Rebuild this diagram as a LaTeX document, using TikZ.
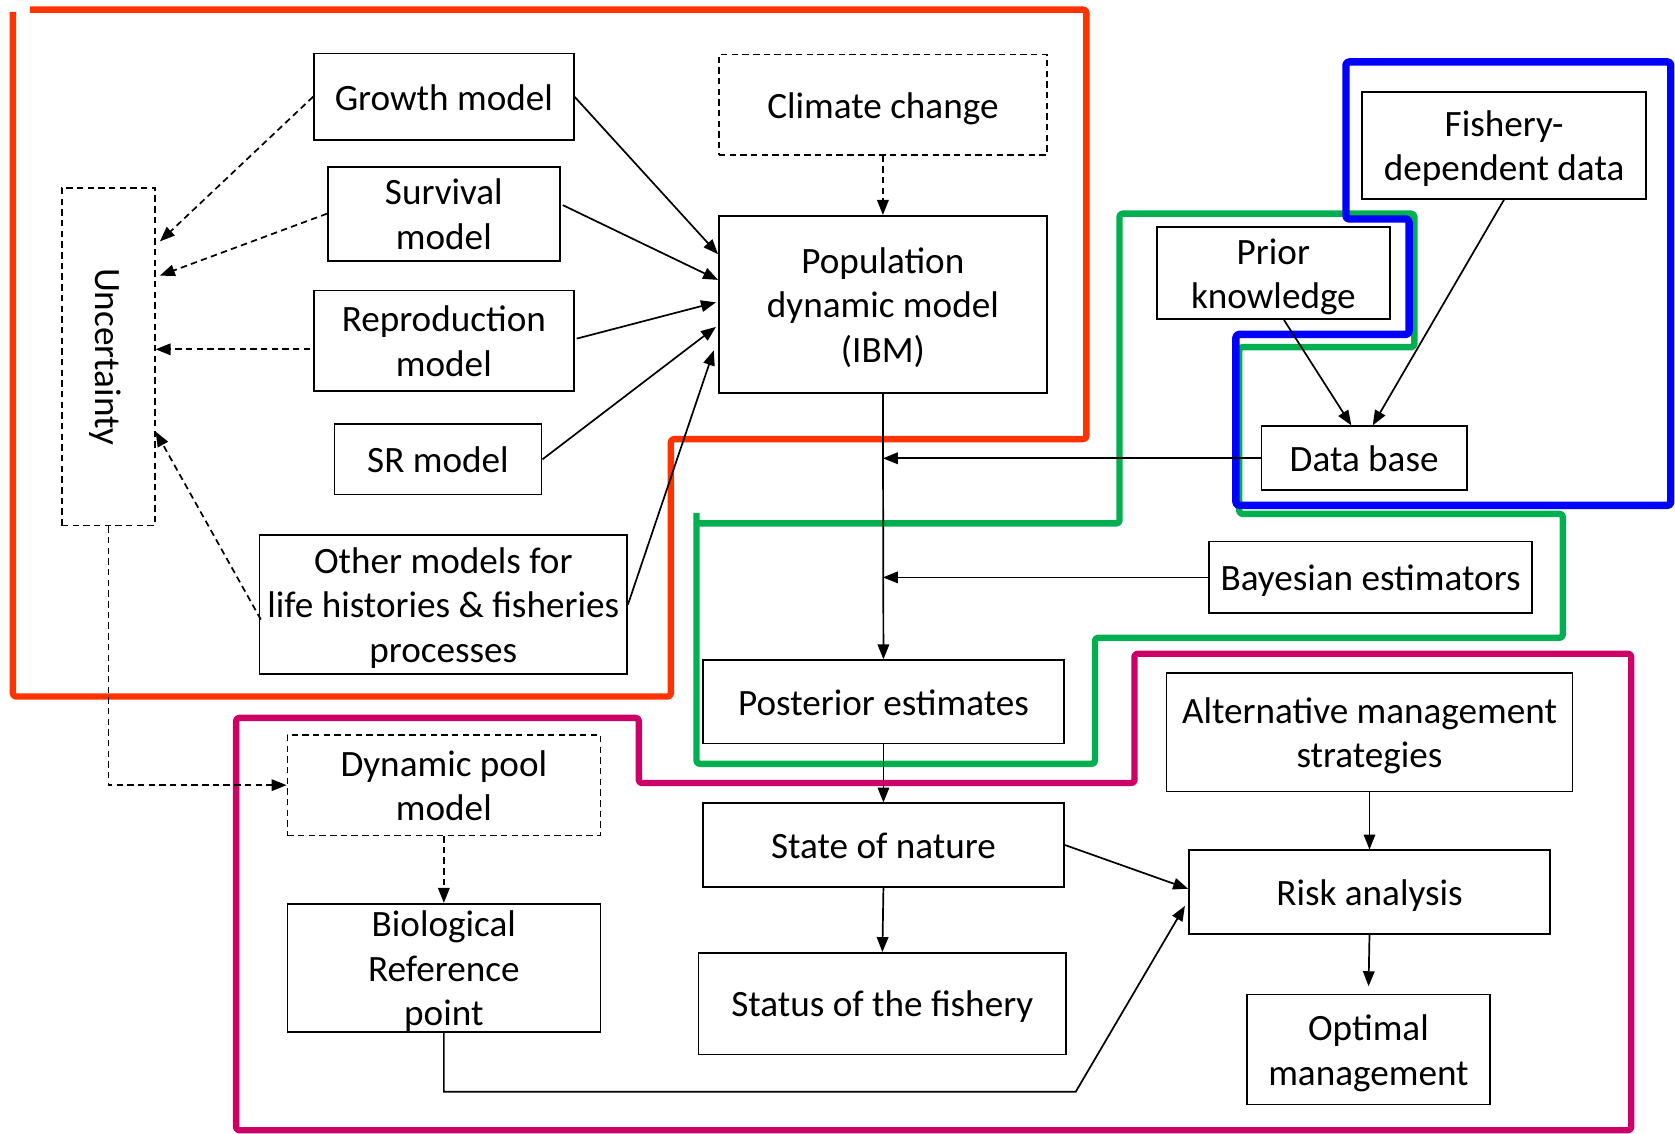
\documentclass[tikz,border=0pt]{standalone}
\usepackage{fontspec}
\setmainfont{Carlito}
\usetikzlibrary{arrows.meta,calc}
\newdimen\upx \upx=0.5pt
\newcommand\tstr{\rule{0pt}{17.5pt}}
\newcommand\bstr{\rule[-5pt]{0pt}{5pt}}
\begin{document}
\begin{tikzpicture}[x=0.5pt,y=-0.5pt,
  box/.style={draw, line width=0.8pt, align=center, inner sep=0pt,
    font=\fontsize{17.4}{20.8}\selectfont},
  dbox/.style={box, line width=0.7pt, dash pattern=on 3pt off 2pt},
  conn/.style={line width=0.8pt, -{Triangle[length=7pt,width=5.4pt]}},
  dconn/.style={conn, dash pattern=on 3pt off 2pt},
  frame/.style={line width=3pt, line join=round, rounded corners=1.5pt}]
\useasboundingbox (0,0) rectangle (1568,1061);
\definecolor{fred}{HTML}{FF3300}
\definecolor{fgreen}{HTML}{00B050}
\definecolor{fblue}{HTML}{0000FF}
\definecolor{fmag}{HTML}{CC0066}

% coloured frames
\draw[frame, fred] (28,9) -- (1017,9) -- (1017,411) -- (628,411) -- (628,652) -- (12,652) -- (12,11);
\draw[frame, fgreen] (652,480) -- (652,715) -- (1025,715) -- (1025,597) -- (1463,597) -- (1463,481) -- (1160,481) -- (1160,325) -- (1324,325) -- (1324,200) -- (1048,200) -- (1048,490) -- (652,490);
\draw[frame, fblue, line width=3.5pt] (1260,58) -- (1564,58) -- (1564,473) -- (1157,473) -- (1157,313) -- (1319,313) -- (1319,205) -- (1260,205) -- cycle;
\draw[frame, fmag] (221,672) -- (598,672) -- (598,733) -- (1062,733) -- (1062,612) -- (1527,612) -- (1527,1058) -- (221,1058) -- cycle;

% nodes
\node[box, minimum width=243\upx, minimum height=81\upx] (growth) at (415.5,90.5) {\tstr Growth model\bstr};
\node[box, minimum width=217\upx, minimum height=88\upx] (surv) at (415.5,200) {\tstr Survival\\model\bstr};
\node[box, minimum width=243\upx, minimum height=94\upx] (repro) at (415.5,319) {\tstr Reproduction\\model\bstr};
\node[box, minimum width=194\upx, minimum height=66\upx] (sr) at (410,430) {\tstr SR model\bstr};
\node[box, minimum width=344\upx, minimum height=130\upx] (other) at (415,566) {\tstr Other models for\\life histories \& fisheries\\processes\bstr};
\node[dbox, minimum width=87\upx, minimum height=316\upx] (unc) at (101.5,334) {};
\node[font=\fontsize{17.4}{20.8}\selectfont, rotate=-90, inner sep=0pt] (unctext) at ($(unc.center)+(-3,0)$) {Uncertainty};
\node[dbox, minimum width=307\upx, minimum height=94\upx] (clim) at (826.5,98) {\tstr Climate change\bstr};
\node[box, minimum width=307\upx, minimum height=166\upx] (pop) at (826.5,285) {\tstr Population\\dynamic model\\(IBM)\bstr};
\node[box, minimum width=266\upx, minimum height=100\upx] (fish) at (1408,136) {\tstr Fishery-\\dependent data\bstr};
\node[box, minimum width=218\upx, minimum height=83\upx] (prior) at (1192,255.5) {\tstr Prior\\knowledge\bstr};
\node[box, minimum width=192\upx, minimum height=60\upx] (db) at (1277,429) {\tstr Data base\bstr};
\node[box, minimum width=302\upx, minimum height=67\upx] (bay) at (1283,540.5) {\tstr Bayesian estimators\bstr};
\node[box, minimum width=338\upx, minimum height=78\upx] (post) at (827,657) {\tstr Posterior estimates\bstr};
\node[box, minimum width=380\upx, minimum height=111\upx] (alt) at (1282,685.5) {\tstr Alternative management\\strategies\bstr};
\node[box, minimum width=338\upx, minimum height=78\upx] (state) at (827,791) {\tstr State of nature\bstr};
\node[box, minimum width=338\upx, minimum height=78\upx] (risk) at (1282,835) {\tstr Risk analysis\bstr};
\node[box, minimum width=344\upx, minimum height=95\upx] (status) at (826,939.5) {\tstr Status of the fishery\bstr};
\node[box, minimum width=228\upx, minimum height=103\upx] (opt) at (1281,982.5) {\tstr Optimal\\management\bstr};
\node[dbox, minimum width=293\upx, minimum height=94\upx] (dyn) at (415.5,735) {\tstr Dynamic pool\\model\bstr};
\node[box, minimum width=293\upx, minimum height=120\upx] (bio) at (415.5,906) {\rule{0pt}{13.5pt}Biological\\Reference\\\smash{point}\rule[-1pt]{0pt}{1pt}};

% solid connectors to population model
\draw[conn] (growth.east) -- ($(pop.west)+(0,-47)$);
\draw[conn] ($(surv.east)+(2,-8)$) -- ($(pop.west)+(0,-23)$);
\draw[conn] ($(repro.east)+(2,-2)$) -- ($(pop.west)+(-2,-2)$);
\draw[conn] (sr.east) -- ($(pop.west)+(-2,21)$);
\draw[conn] (other.east) -- ($(pop.west)+(-4,43)$);
\draw[dconn] (clim.south) -- (pop.north);

% dashed connectors to uncertainty
\draw[dconn] (growth.west) -- ($(unc.east)+(4,-108)$);
\draw[dconn] (surv.west) -- ($(unc.east)+(4,-76)$);
\draw[dconn] ($(repro.west)+(-3,8)$) -- ($(unc.east)+(0,-7)$);
\draw[dconn] ($(other.west)+(2,14)$) -- ($(unc.east)+(0,70)$);
\draw[dconn] (unc.south) -- (unc.south |- dyn.west) -- (dyn.west);
\draw[dconn] (dyn.south) -- (bio.north);

% main chain
\draw[conn] (pop.south) -- (post.north);
\draw[conn] (db.west) -- (pop.south |- db.west);
\draw[conn] (bay.west) -- (pop.south |- bay.west);
\draw[conn] ($(prior.south)+(10,0)$) -- ($(db.north)+(-12,0)$);
\draw[conn] (fish.south) -- ($(db.north)+(8,0)$);
\draw[conn] (post.south) -- (state.north);
\draw[conn] (state.south) -- (status.north);
\draw[conn] (state.east) -- ($(risk.west)+(0,-3)$);
\coordinate (bk1) at (1007,1022);
\draw[conn] (bio.south) -- (bio.south |- bk1) -- (bk1) -- ($(risk.west)+(-3,13)$);
\draw[conn] (alt.south) -- (risk.north);
\draw[conn, shorten >=3.5pt] (risk.south) -- (opt.north);
\end{tikzpicture}
\end{document}
